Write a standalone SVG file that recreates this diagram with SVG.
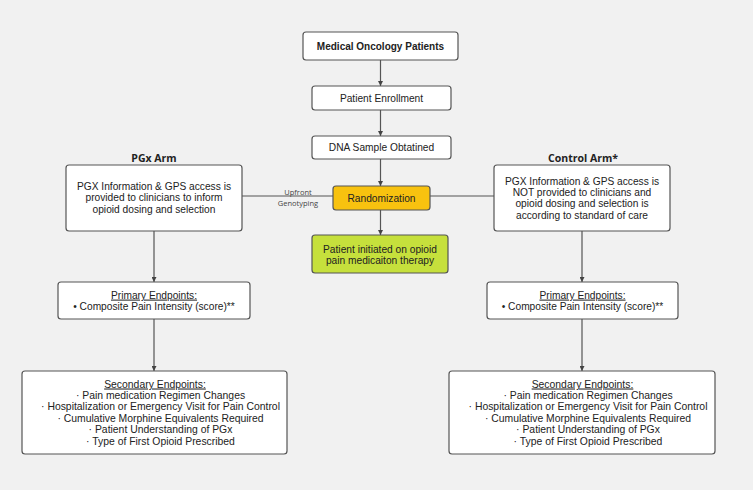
<svg xmlns="http://www.w3.org/2000/svg" width="753" height="490" viewBox="0 0 753 490">
<defs>
<marker id="ah" viewBox="0 0 10 10" refX="10" refY="5" markerWidth="5" markerHeight="5" orient="auto" markerUnits="userSpaceOnUse">
<path d="M0,0 L10,5 L0,10 z" fill="#444"/>
</marker>
<style>
.box{fill:#fff;stroke:#555;stroke-width:1.2}
.t{font-family:"Liberation Sans",Arial,sans-serif;font-size:10.2px;fill:#222;text-anchor:middle}
.s{font-size:10.4px}
.tb{font-family:"Liberation Sans",Arial,sans-serif;font-size:10px;font-weight:bold;fill:#222;text-anchor:middle}
.h{font-family:"Open Sans",sans-serif;font-size:10.5px;font-weight:bold;fill:#222;text-anchor:middle}
.lbl{font-family:"Open Sans",sans-serif;font-size:7.5px;fill:#444;text-anchor:middle}
.c{stroke:#555;stroke-width:1.2;fill:none}
</style>
</defs>
<rect width="753" height="490" fill="#f1f1f1"/>
<g id="connectors">
<line class="c" x1="380.5" y1="60" x2="380.5" y2="86" marker-end="url(#ah)"/>
<line class="c" x1="380.5" y1="110" x2="380.5" y2="136" marker-end="url(#ah)"/>
<line class="c" x1="380.5" y1="159" x2="380.5" y2="186" marker-end="url(#ah)"/>
<line class="c" x1="380.5" y1="210" x2="380.5" y2="235" marker-end="url(#ah)"/>
<line class="c" x1="242" y1="196" x2="333" y2="196"/>
<line class="c" x1="430" y1="196" x2="494" y2="196"/>
<line class="c" x1="154" y1="231" x2="154" y2="282" marker-end="url(#ah)"/>
<line class="c" x1="154" y1="319" x2="154" y2="371" marker-end="url(#ah)"/>
<line class="c" x1="582" y1="231" x2="582" y2="282" marker-end="url(#ah)"/>
<line class="c" x1="582" y1="319" x2="582" y2="371" marker-end="url(#ah)"/>
<text class="lbl" x="298" y="195">Upfront</text>
<text class="lbl" x="298" y="206">Genotyping</text>
</g>
<g id="n-medonc">
<rect class="box" x="303" y="32" width="155" height="28" rx="3"/>
<text class="tb" x="380.5" y="49.6">Medical Oncology Patients</text>
</g>
<g id="n-enroll">
<rect class="box" x="312" y="86" width="139" height="24" rx="3"/>
<text class="t" x="381.5" y="101.6">Patient Enrollment</text>
</g>
<g id="n-dna">
<rect class="box" x="312" y="136" width="139" height="23" rx="3"/>
<text class="t" x="381.5" y="151.2">DNA Sample Obtatined</text>
</g>
<g id="n-random">
<rect x="333" y="186" width="97" height="24" rx="3" fill="#f8c20f" stroke="#555" stroke-width="1.2"/>
<text class="t" x="381.5" y="201.6">Randomization</text>
</g>
<g id="n-initiated">
<rect x="312" y="235" width="136" height="38" rx="3" fill="#c6e03c" stroke="#555" stroke-width="1.2"/>
<text class="t" x="380" y="252.6">Patient initiated on opioid</text>
<text class="t" x="380" y="264">pain medicaiton therapy</text>
</g>
<g id="n-pgx">
<text class="h" x="154" y="161.5">PGx Arm</text>
<rect class="box" x="66" y="165" width="176" height="66" rx="3"/>
<text class="t" x="154" y="189.6">PGX Information &amp; GPS access is</text>
<text class="t" x="154" y="201.3">provided to clinicians to inform</text>
<text class="t" x="154" y="213">opioid dosing and selection</text>
</g>
<g id="n-control">
<text class="h" x="583" y="161.5">Control Arm*</text>
<rect class="box" x="494" y="165" width="176" height="66" rx="3"/>
<text class="t" x="582" y="184.6">PGX Information &amp; GPS access is</text>
<text class="t" x="582" y="195.9">NOT provided to clinicians and</text>
<text class="t" x="582" y="207.2">opioid dosing and selection is</text>
<text class="t" x="582" y="218.5">according to standard of care</text>
</g>
<g id="n-primary-pgx">
<rect class="box" x="58" y="282" width="192" height="37" rx="3"/>
<text class="t" x="154" y="298.6" text-decoration="underline">Primary Endpoints:</text>
<text class="t" x="154" y="309.6">• Composite Pain Intensity (score)**</text>
</g>
<g id="n-primary-ctrl">
<rect class="box" x="487" y="282" width="191" height="37" rx="3"/>
<text class="t" x="582.5" y="298.6" text-decoration="underline">Primary Endpoints:</text>
<text class="t" x="582.5" y="309.6">• Composite Pain Intensity (score)**</text>
</g>
<g id="n-secondary-pgx" xml:space="preserve">
<rect class="box" x="22" y="371" width="265" height="83" rx="3"/>
<text class="t s" x="155" y="387.5" text-decoration="underline">Secondary Endpoints:</text>
<text class="t s" x="160.5" y="399">·   Pain medication Regimen Changes</text>
<text class="t s" x="160.5" y="410.4">·   Hospitalization or Emergency Visit for Pain Control</text>
<text class="t s" x="160.5" y="421.8">·   Cumulative Morphine Equivalents Required</text>
<text class="t s" x="160.5" y="433.2">·   Patient Understanding of PGx</text>
<text class="t s" x="160.5" y="444.6">·   Type of First Opioid Prescribed</text>
</g>
<g id="n-secondary-ctrl" xml:space="preserve">
<rect class="box" x="449" y="371" width="266" height="83" rx="3"/>
<text class="t s" x="582.5" y="387.5" text-decoration="underline">Secondary Endpoints:</text>
<text class="t s" x="588" y="399">·   Pain medication Regimen Changes</text>
<text class="t s" x="588" y="410.4">·   Hospitalization or Emergency Visit for Pain Control</text>
<text class="t s" x="588" y="421.8">·   Cumulative Morphine Equivalents Required</text>
<text class="t s" x="588" y="433.2">·   Patient Understanding of PGx</text>
<text class="t s" x="588" y="444.6">·   Type of First Opioid Prescribed</text>
</g>
</svg>
